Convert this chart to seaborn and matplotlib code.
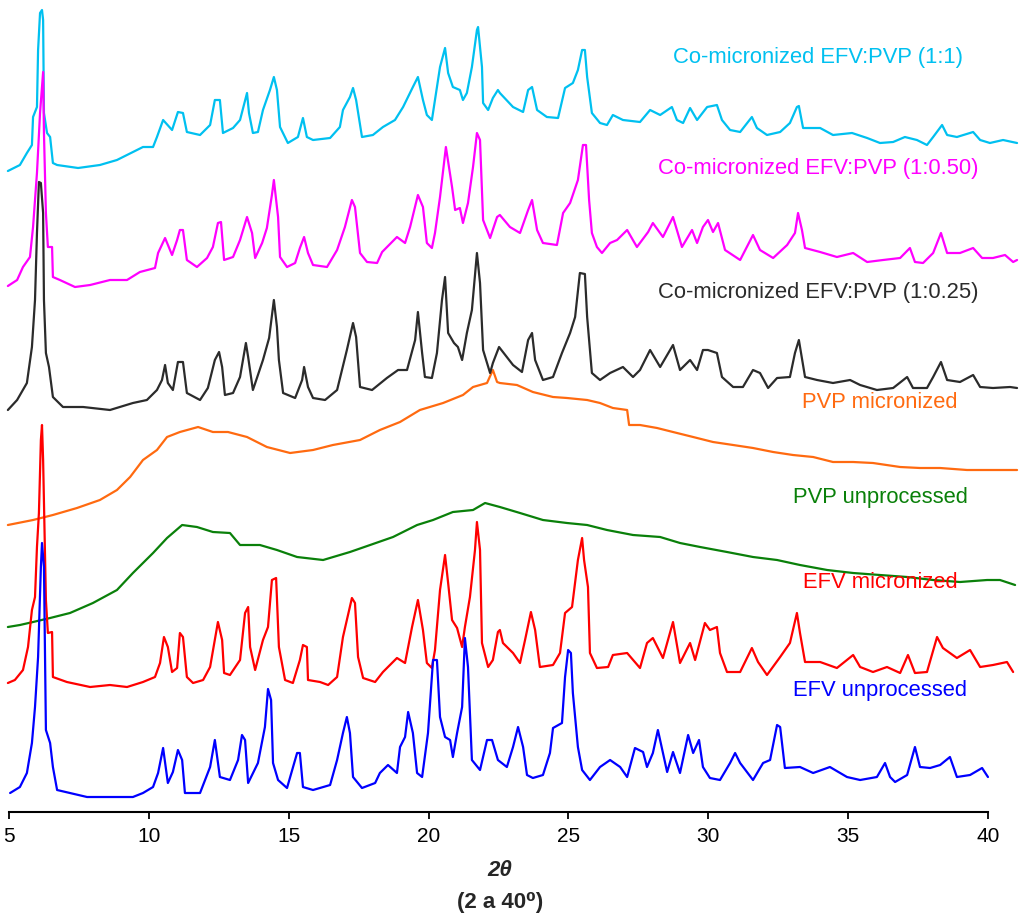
import matplotlib
matplotlib.use("Agg")
import matplotlib.pyplot as plt
import seaborn as sns

# XRD patterns: (2theta, intensity a.u.), stacked as printed
CO_1_1 = [
    (4.96, 641), (5.39, 647), (5.64, 659), (5.82, 667), (5.86, 695), (6.00, 705), (6.04, 762), (6.11, 799),
    (6.18, 802), (6.22, 792), (6.25, 699), (6.36, 679), (6.47, 675), (6.57, 649), (6.72, 647), (7.47, 644),
    (8.25, 647), (8.86, 652), (9.79, 665), (10.15, 665), (10.29, 675), (10.51, 692), (10.83, 682), (11.04, 700),
    (11.22, 699), (11.36, 680), (11.83, 677), (12.19, 687), (12.36, 712), (12.54, 712), (12.65, 679), (13.01, 684),
    (13.26, 692), (13.51, 719), (13.58, 699), (13.72, 679), (13.90, 680), (14.08, 702), (14.33, 722), (14.47, 735),
    (14.58, 722), (14.69, 685), (14.97, 669), (15.33, 675), (15.51, 694), (15.65, 675), (15.87, 672), (16.48, 674),
    (16.83, 685), (16.94, 702), (17.19, 715), (17.30, 724), (17.41, 712), (17.62, 675), (18.01, 677), (18.37, 685),
    (18.80, 692), (19.09, 705), (19.44, 725), (19.62, 735), (19.80, 712), (19.94, 697), (20.12, 692), (20.23, 712),
    (20.41, 745), (20.59, 764), (20.70, 739), (20.87, 725), (21.12, 722), (21.23, 712), (21.37, 719), (21.55, 745),
    (21.73, 782), (21.77, 785), (21.91, 745), (21.95, 709), (22.13, 702), (22.30, 714), (22.48, 722), (22.55, 719),
    (23.02, 705), (23.38, 700), (23.56, 722), (23.70, 725), (23.88, 702), (24.23, 695), (24.63, 694), (24.88, 724),
    (25.16, 729), (25.34, 742), (25.49, 762), (25.59, 762), (25.67, 735), (25.84, 699), (26.13, 689), (26.38, 687),
    (26.59, 697), (26.95, 692), (27.56, 690), (27.92, 702), (28.28, 697), (28.70, 705), (28.88, 692), (29.10, 689),
    (29.35, 704), (29.60, 692), (29.96, 705), (30.31, 707), (30.49, 692), (30.78, 682), (31.14, 680), (31.56, 695),
    (31.74, 684), (32.10, 677), (32.57, 680), (32.92, 689), (33.17, 705), (33.24, 706), (33.39, 684), (34.00, 684),
    (34.46, 677), (35.14, 679), (35.68, 674), (36.14, 669), (36.61, 670), (37.03, 675), (37.46, 672), (37.82, 667),
    (38.04, 675), (38.36, 687), (38.54, 677), (38.89, 675), (39.47, 680), (39.72, 672), (40.07, 669), (40.54, 672),
    (41.04, 669),
]

CO_1_050 = [
    (4.96, 526), (5.29, 532), (5.50, 545), (5.75, 555), (5.86, 585), (6.00, 639), (6.11, 699), (6.18, 725),
    (6.22, 740), (6.25, 679), (6.32, 599), (6.39, 565), (6.54, 565), (6.57, 535), (6.82, 532), (7.36, 525),
    (7.90, 527), (8.61, 532), (9.22, 532), (9.68, 540), (10.22, 544), (10.33, 559), (10.58, 574), (10.83, 557),
    (11.01, 572), (11.11, 582), (11.22, 582), (11.36, 552), (11.72, 545), (12.08, 554), (12.29, 565), (12.47, 589),
    (12.58, 590), (12.69, 552), (13.01, 555), (13.26, 572), (13.51, 595), (13.69, 579), (13.80, 554), (14.05, 569),
    (14.22, 584), (14.40, 617), (14.47, 632), (14.62, 595), (14.69, 555), (14.94, 545), (15.23, 549), (15.40, 564),
    (15.55, 575), (15.69, 559), (15.87, 547), (16.37, 545), (16.73, 562), (17.01, 585), (17.26, 612), (17.37, 605),
    (17.55, 559), (17.80, 550), (18.16, 549), (18.34, 560), (18.87, 575), (19.16, 569), (19.34, 585), (19.62, 617),
    (19.80, 605), (19.94, 569), (20.12, 564), (20.23, 579), (20.41, 615), (20.62, 665), (20.84, 625), (20.95, 602),
    (21.12, 604), (21.23, 589), (21.41, 609), (21.59, 645), (21.73, 679), (21.84, 672), (21.95, 592), (22.20, 574),
    (22.45, 595), (22.55, 597), (22.91, 585), (23.27, 579), (23.56, 602), (23.70, 612), (23.88, 582), (24.09, 569),
    (24.59, 567), (24.81, 599), (25.06, 609), (25.34, 632), (25.52, 667), (25.63, 667), (25.74, 612), (25.84, 579),
    (26.02, 565), (26.20, 559), (26.49, 569), (26.74, 572), (27.10, 582), (27.45, 565), (27.85, 580), (28.02, 589),
    (28.38, 575), (28.74, 595), (29.06, 565), (29.42, 582), (29.60, 569), (29.81, 585), (29.99, 592), (30.17, 580),
    (30.35, 589), (30.60, 562), (31.14, 552), (31.60, 577), (31.85, 562), (32.32, 554), (32.82, 567), (33.10, 579),
    (33.21, 599), (33.35, 582), (33.46, 564), (34.00, 560), (34.60, 555), (35.18, 559), (35.68, 550), (36.25, 552),
    (36.86, 554), (37.21, 564), (37.39, 550), (37.68, 549), (38.04, 559), (38.32, 579), (38.54, 559), (39.00, 559),
    (39.47, 564), (39.79, 554), (40.18, 554), (40.61, 557), (40.90, 550), (41.04, 552),
]

CO_1_025 = [
    (4.96, 402), (5.29, 412), (5.64, 429), (5.82, 465), (5.93, 512), (6.00, 579), (6.07, 630), (6.14, 629),
    (6.22, 599), (6.25, 512), (6.32, 459), (6.43, 445), (6.57, 415), (6.93, 405), (7.65, 405), (8.61, 402),
    (9.43, 409), (9.93, 412), (10.29, 422), (10.47, 432), (10.58, 447), (10.68, 429), (10.86, 422), (11.04, 450),
    (11.22, 450), (11.36, 419), (11.83, 412), (12.11, 424), (12.36, 452), (12.51, 460), (12.62, 445), (12.72, 417),
    (13.01, 419), (13.26, 435), (13.47, 469), (13.55, 455), (13.72, 422), (14.08, 452), (14.30, 474), (14.47, 512),
    (14.58, 485), (14.65, 452), (14.80, 419), (15.23, 414), (15.48, 432), (15.55, 445), (15.69, 425), (15.87, 414),
    (16.30, 412), (16.73, 422), (17.08, 462), (17.30, 489), (17.41, 475), (17.55, 425), (17.98, 422), (18.51, 434),
    (18.91, 442), (19.23, 442), (19.52, 472), (19.62, 500), (19.77, 459), (19.87, 435), (20.12, 434), (20.30, 459),
    (20.48, 512), (20.59, 535), (20.70, 479), (20.91, 469), (21.05, 465), (21.20, 452), (21.37, 479), (21.55, 502),
    (21.73, 559), (21.84, 529), (21.95, 462), (22.20, 439), (22.30, 449), (22.52, 465), (23.02, 447), (23.34, 440),
    (23.56, 472), (23.70, 479), (23.81, 452), (24.09, 432), (24.45, 435), (24.77, 459), (25.06, 479), (25.24, 495),
    (25.41, 539), (25.59, 538), (25.67, 495), (25.84, 439), (26.13, 432), (26.49, 439), (26.95, 445), (27.31, 435),
    (27.56, 442), (27.92, 462), (28.28, 445), (28.74, 467), (28.99, 442), (29.35, 452), (29.60, 442), (29.81, 462),
    (29.99, 462), (30.31, 459), (30.49, 435), (30.89, 425), (31.24, 425), (31.60, 442), (31.85, 439), (32.14, 424),
    (32.46, 434), (32.92, 435), (33.10, 459), (33.24, 472), (33.46, 435), (33.89, 432), (34.46, 429), (35.07, 432),
    (35.43, 427), (36.03, 422), (36.61, 424), (37.11, 435), (37.32, 424), (37.82, 424), (38.04, 435), (38.32, 450),
    (38.54, 432), (39.00, 430), (39.47, 437), (39.72, 425), (40.18, 424), (40.79, 425), (41.04, 424),
]

PVP_MIC = [
    (4.96, 287), (5.86, 292), (6.57, 297), (7.43, 304), (8.25, 312), (8.86, 322), (9.33, 335), (9.79, 352),
    (10.29, 362), (10.65, 375), (11.11, 380), (11.76, 385), (12.29, 380), (12.83, 380), (13.51, 375), (14.22, 365),
    (15.05, 359), (15.87, 362), (16.58, 367), (17.55, 372), (18.26, 382), (18.98, 390), (19.69, 402), (20.52, 409),
    (21.23, 417), (21.59, 425), (22.09, 429), (22.30, 442), (22.45, 430), (22.55, 429), (23.16, 427), (23.73, 420),
    (24.45, 415), (24.95, 414), (25.67, 412), (26.13, 409), (26.59, 404), (27.10, 402), (27.17, 387), (27.56, 387),
    (28.17, 384), (28.74, 380), (29.46, 375), (30.17, 370), (30.89, 367), (31.60, 364), (32.32, 360), (33.03, 357),
    (33.75, 355), (34.46, 350), (35.18, 350), (35.89, 349), (36.86, 345), (37.57, 344), (38.29, 344), (39.25, 342),
    (39.97, 342), (40.68, 342), (41.04, 342),
]

PVP_UNP = [
    (4.96, 185), (5.39, 187), (5.86, 190), (6.47, 194), (7.18, 199), (8.00, 209), (8.86, 222), (9.43, 239),
    (10.15, 259), (10.65, 274), (11.19, 287), (11.72, 285), (12.29, 280), (12.90, 279), (13.26, 267), (13.97, 267),
    (14.58, 262), (15.30, 255), (16.23, 252), (17.19, 260), (17.91, 267), (18.73, 275), (19.59, 287), (20.16, 292),
    (20.87, 300), (21.59, 302), (22.02, 309), (22.55, 305), (23.27, 299), (24.09, 292), (24.95, 289), (25.67, 287),
    (26.38, 282), (27.31, 277), (28.28, 275), (28.99, 269), (29.71, 265), (30.67, 260), (31.60, 255), (32.46, 252),
    (33.28, 247), (34.25, 242), (35.18, 239), (36.14, 237), (37.11, 235), (38.04, 232), (39.00, 230), (39.97, 232),
    (40.43, 232), (40.97, 227),
]

EFV_MIC = [
    (4.96, 129), (5.21, 132), (5.50, 142), (5.68, 165), (5.82, 202), (5.93, 215), (6.00, 265), (6.07, 299),
    (6.14, 372), (6.18, 387), (6.22, 352), (6.29, 252), (6.32, 212), (6.39, 179), (6.54, 180), (6.57, 135),
    (7.07, 130), (7.90, 125), (8.61, 127), (9.22, 125), (9.79, 130), (10.22, 135), (10.40, 149), (10.54, 175),
    (10.68, 165), (10.83, 140), (11.01, 144), (11.11, 179), (11.22, 175), (11.36, 135), (11.58, 129), (11.94, 132),
    (12.19, 145), (12.36, 172), (12.47, 190), (12.62, 172), (12.69, 139), (12.90, 137), (13.26, 152), (13.44, 199),
    (13.55, 205), (13.62, 165), (13.80, 142), (14.08, 172), (14.26, 185), (14.40, 232), (14.55, 234), (14.65, 165),
    (14.87, 132), (15.15, 129), (15.40, 152), (15.51, 167), (15.65, 165), (15.69, 132), (16.12, 130), (16.41, 127),
    (16.73, 135), (16.94, 175), (17.26, 214), (17.37, 209), (17.48, 155), (17.66, 134), (18.09, 130), (18.37, 140),
    (18.87, 154), (19.16, 149), (19.41, 185), (19.62, 212), (19.80, 182), (19.94, 149), (20.12, 144), (20.23, 162),
    (20.41, 222), (20.59, 257), (20.70, 229), (20.84, 192), (21.02, 184), (21.20, 165), (21.30, 185), (21.48, 215),
    (21.66, 262), (21.73, 290), (21.84, 262), (21.91, 169), (22.13, 145), (22.30, 152), (22.48, 180), (22.55, 182),
    (22.66, 169), (23.02, 159), (23.27, 149), (23.45, 172), (23.66, 200), (23.81, 182), (23.98, 145), (24.45, 147),
    (24.70, 159), (24.88, 199), (25.13, 205), (25.34, 252), (25.49, 274), (25.56, 252), (25.70, 225), (25.77, 159),
    (26.02, 144), (26.42, 145), (26.59, 157), (27.10, 159), (27.56, 144), (27.81, 169), (28.02, 174), (28.38, 154),
    (28.74, 190), (28.99, 149), (29.35, 169), (29.53, 152), (29.88, 189), (30.06, 182), (30.31, 185), (30.42, 159),
    (30.67, 140), (31.14, 140), (31.56, 164), (31.78, 150), (32.10, 137), (32.57, 155), (32.92, 169), (33.17, 199),
    (33.28, 179), (33.46, 150), (34.00, 150), (34.60, 144), (35.18, 157), (35.43, 145), (35.89, 140), (36.39, 145),
    (36.86, 139), (37.14, 157), (37.39, 139), (37.82, 140), (38.18, 175), (38.39, 164), (38.89, 154), (39.36, 162),
    (39.72, 145), (40.18, 147), (40.68, 150), (40.90, 140),
]

EFV_UNP = [
    (5.04, 19), (5.39, 25), (5.64, 39), (5.82, 69), (5.93, 105), (6.04, 155), (6.14, 245), (6.18, 269),
    (6.25, 245), (6.32, 82), (6.47, 69), (6.57, 45), (6.72, 22), (7.18, 19), (7.79, 15), (8.61, 15),
    (9.43, 15), (9.79, 19), (10.15, 25), (10.33, 39), (10.51, 64), (10.68, 29), (10.86, 40), (11.04, 62),
    (11.19, 52), (11.29, 19), (11.83, 19), (12.19, 45), (12.36, 72), (12.54, 35), (12.90, 32), (13.19, 52),
    (13.33, 77), (13.44, 72), (13.55, 29), (13.90, 49), (14.15, 85), (14.26, 123), (14.37, 112), (14.44, 49),
    (14.62, 32), (14.94, 24), (15.30, 59), (15.40, 59), (15.51, 25), (15.87, 22), (16.48, 27), (16.73, 52),
    (16.94, 79), (17.08, 95), (17.19, 79), (17.30, 35), (17.62, 24), (18.09, 29), (18.26, 39), (18.55, 47),
    (18.87, 39), (18.98, 65), (19.16, 75), (19.27, 100), (19.44, 79), (19.59, 39), (19.77, 35), (19.98, 79),
    (20.16, 152), (20.30, 152), (20.41, 95), (20.59, 75), (20.77, 72), (20.87, 55), (21.02, 79), (21.20, 105),
    (21.30, 174), (21.41, 145), (21.55, 52), (21.84, 42), (22.09, 72), (22.27, 72), (22.48, 52), (22.80, 45),
    (23.02, 65), (23.20, 85), (23.38, 65), (23.52, 37), (23.73, 34), (24.09, 37), (24.34, 59), (24.45, 84),
    (24.77, 89), (24.88, 135), (24.99, 162), (25.09, 159), (25.16, 119), (25.34, 65), (25.49, 42), (25.77, 32),
    (26.13, 45), (26.49, 52), (26.85, 45), (27.10, 35), (27.38, 64), (27.67, 60), (27.81, 45), (28.02, 59),
    (28.20, 82), (28.38, 59), (28.53, 40), (28.74, 60), (28.99, 39), (29.28, 77), (29.46, 59), (29.67, 72),
    (29.81, 45), (30.06, 34), (30.42, 32), (30.78, 49), (30.96, 59), (31.14, 49), (31.60, 32), (31.96, 49),
    (32.21, 52), (32.46, 87), (32.57, 85), (32.74, 44), (33.28, 45), (33.75, 39), (34.35, 45), (34.96, 35),
    (35.43, 32), (36.03, 35), (36.32, 49), (36.50, 35), (36.68, 30), (37.11, 37), (37.39, 65), (37.57, 45),
    (37.93, 44), (38.29, 47), (38.64, 55), (38.89, 35), (39.36, 37), (39.79, 44), (40.00, 35),
]

SERIES = [
    ("PVP micronized", PVP_MIC, "#FF6A10", (36.14, 410)),
    ("PVP unprocessed", PVP_UNP, "#0A800A", (36.14, 315)),
    ("Co-micronized EFV:PVP (1:0.25)", CO_1_025, "#2B2B2B", (33.92, 520)),
    ("Co-micronized EFV:PVP (1:1)", CO_1_1, "#00C0F0", (33.92, 755)),
    ("Co-micronized EFV:PVP (1:0.50)", CO_1_050, "#FF00FF", (33.92, 644)),
    ("EFV micronized", EFV_MIC, "#FF0000", (36.14, 230)),
    ("EFV unprocessed", EFV_UNP, "#0000FF", (36.14, 122)),
]

X_TICKS = [5, 10, 15, 20, 25, 30, 35, 40]


def main():
    sns.set_style("white")
    plt.rcParams["font.family"] = ["Liberation Sans", "DejaVu Sans"]

    fig = plt.figure(figsize=(10.24, 9.22), dpi=100)
    ax = fig.add_axes([0.00605, 0.1193, 0.9888, 0.8807])

    for name, pts, color, (tx, ty) in SERIES:
        xs = [p[0] for p in pts]
        ys = [p[1] for p in pts]
        sns.lineplot(x=xs, y=ys, ax=ax, color=color, linewidth=1.6,
                     estimator=None, sort=False, legend=False)
        ax.text(tx, ty, name, color=color, fontsize=15.8, ha="center", va="center")

    ax.set_xlim(4.9, 41.1)
    ax.set_ylim(0, 812)
    ax.set_yticks([])
    ax.set_xticks(X_TICKS)
    for s in ("left", "top", "right"):
        ax.spines[s].set_visible(False)
    ax.spines["bottom"].set_bounds(5, 40)
    ax.spines["bottom"].set_linewidth(1.5)
    ax.spines["bottom"].set_color("black")
    ax.tick_params(axis="x", direction="out", length=5, width=1.3, colors="black",
                   labelsize=15, pad=6, bottom=True)
    ax.set_xlabel("")
    ax.set_ylabel("")

    fig.text(500 / 1024, 1 - 870 / 922, "2θ", fontsize=16, fontweight="bold",
             fontstyle="italic", ha="center", va="center")
    fig.text(500 / 1024, 1 - 902 / 922, "(2 a 40⁰)", fontsize=16, fontweight="bold",
             ha="center", va="center")

    fig.savefig("out.png", dpi=100)


if __name__ == "__main__":
    main()
